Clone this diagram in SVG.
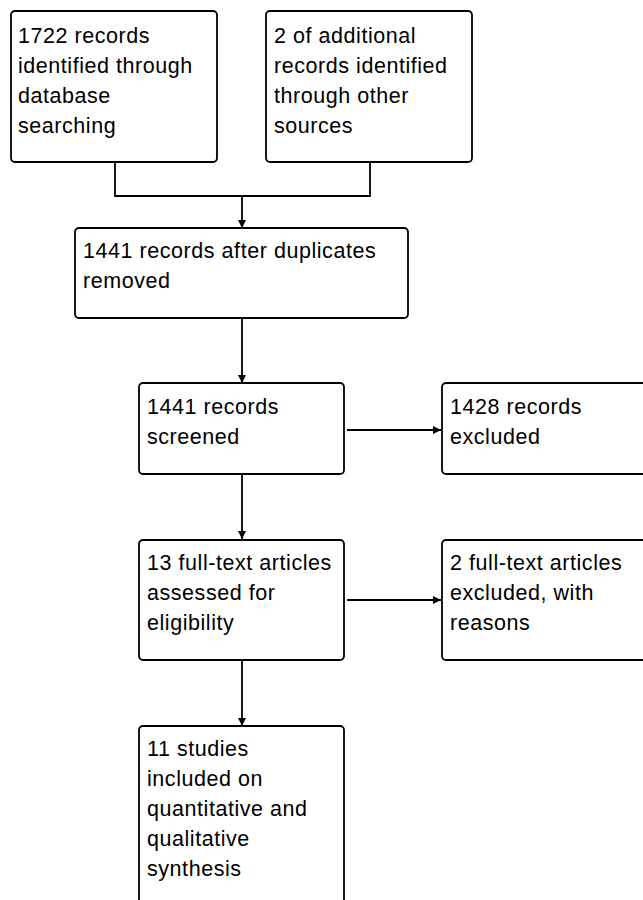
<svg xmlns="http://www.w3.org/2000/svg" width="643" height="900" viewBox="0 0 643 900">
<style>
.box{fill:#fff;stroke:#000;stroke-width:1.8}
.t{font-family:"Liberation Sans",Arial,sans-serif;font-size:21.5px;letter-spacing:0.55px;fill:#000}
.c{fill:none;stroke:#000;stroke-width:1.8}
</style>
<defs>
<marker id="ah" viewBox="0 0 10 10" refX="10" refY="5" markerWidth="10" markerHeight="8" markerUnits="userSpaceOnUse" orient="auto">
<path d="M0,0 L10,5 L0,10 Z" fill="#000"/>
</marker>
</defs>
<rect width="643" height="900" fill="#fff"/>
<g id="connectors">
<path class="c" d="M115,163 V196 H370 V163"/>
<path class="c" d="M242,196 V228" marker-end="url(#ah)"/>
<path class="c" d="M242,318 V383" marker-end="url(#ah)"/>
<path class="c" d="M347,430 H441" marker-end="url(#ah)"/>
<path class="c" d="M242,474 V539" marker-end="url(#ah)"/>
<path class="c" d="M347,600 H441" marker-end="url(#ah)"/>
<path class="c" d="M242,660 V726" marker-end="url(#ah)"/>
</g>
<g id="n1">
<rect class="box" x="11" y="11" width="206" height="151" rx="4"/>
<text class="t" x="18" y="43">1722 records</text>
<text class="t" x="18" y="73">identified through</text>
<text class="t" x="18" y="103">database</text>
<text class="t" x="18" y="133">searching</text>
</g>
<g id="n2">
<rect class="box" x="266" y="11" width="206" height="151" rx="4"/>
<text class="t" x="274" y="43">2 of additional</text>
<text class="t" x="274" y="73">records identified</text>
<text class="t" x="274" y="103">through other</text>
<text class="t" x="274" y="133">sources</text>
</g>
<g id="n3">
<rect class="box" x="75" y="228" width="333" height="90" rx="4"/>
<text class="t" x="83" y="258">1441 records after duplicates</text>
<text class="t" x="83" y="288">removed</text>
</g>
<g id="n4">
<rect class="box" x="139" y="383" width="205" height="91" rx="4"/>
<text class="t" x="147" y="414">1441 records</text>
<text class="t" x="147" y="444">screened</text>
</g>
<g id="n5">
<rect class="box" x="442" y="383" width="220" height="91" rx="4"/>
<text class="t" x="450" y="414">1428 records</text>
<text class="t" x="450" y="444">excluded</text>
</g>
<g id="n6">
<rect class="box" x="139" y="540" width="205" height="120" rx="4"/>
<text class="t" x="147" y="570">13 full-text articles</text>
<text class="t" x="147" y="600">assessed for</text>
<text class="t" x="147" y="630">eligibility</text>
</g>
<g id="n7">
<rect class="box" x="442" y="540" width="220" height="120" rx="4"/>
<text class="t" x="450" y="570">2 full-text articles</text>
<text class="t" x="450" y="600">excluded, with</text>
<text class="t" x="450" y="630">reasons</text>
</g>
<g id="n8">
<rect class="box" x="139" y="726" width="205" height="200" rx="4"/>
<text class="t" x="147" y="756">11 studies</text>
<text class="t" x="147" y="786">included on</text>
<text class="t" x="147" y="816">quantitative and</text>
<text class="t" x="147" y="846">qualitative</text>
<text class="t" x="147" y="876">synthesis</text>
</g>
</svg>
